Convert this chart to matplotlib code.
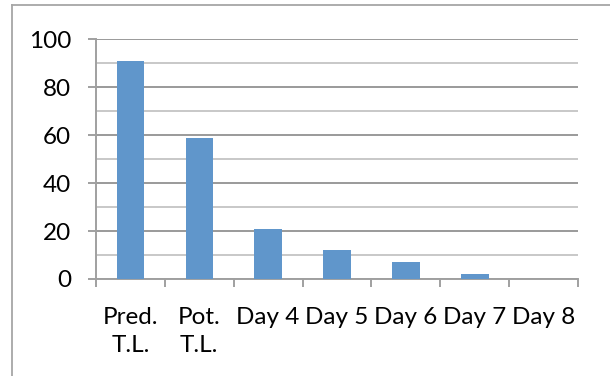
import numpy as np
import matplotlib
matplotlib.use("Agg")
import matplotlib.pyplot as plt
from matplotlib.lines import Line2D

categories = ["Pred.\nT.L.", "Pot.\nT.L.", "Day 4", "Day 5", "Day 6", "Day 7", "Day 8"]
values = [91, 59, 21, 12, 7, 2, 0]
y_ticks = [0, 20, 40, 60, 80, 100]

plt.rcParams['font.family'] = ['Lato', 'DejaVu Sans']

fig = plt.figure(figsize=(6.1, 3.76), dpi=100)
ax = fig.add_axes([0.1574, 0.258, 0.7902, 0.6375])

x = np.arange(len(categories))
ax.bar(x, values, width=0.4, color="#6096CB", zorder=3)

ax.set_xlim(-0.5, len(categories) - 0.5)
ax.set_ylim(0, 100)

# major gridlines every 20, lighter ones in between
ax.set_yticks(y_ticks)
ax.set_yticks(np.arange(10, 100, 20), minor=True)
ax.yaxis.grid(True, which="major", color="#9A9A9A", linewidth=1.4, zorder=0)
ax.yaxis.grid(True, which="minor", color="#C8C8C8", linewidth=1.4, zorder=0)
ax.tick_params(axis="y", which="major", length=6, width=1.4, color="#A0A0A0",
               pad=12, labelsize=17.5, labelcolor="black")
ax.tick_params(axis="y", which="minor", length=0)

# category labels centred, tick marks on the boundaries
ax.set_xticks(x)
ax.set_xticklabels(categories, linespacing=1.45)
ax.set_xticks(np.arange(-0.5, len(categories)), minor=True)
ax.tick_params(axis="x", which="major", length=0, pad=20, labelsize=17.5)
ax.tick_params(axis="x", which="minor", length=6, width=1.4, color="#A0A0A0")

for side in ["top", "right"]:
    ax.spines[side].set_visible(False)
for side in ["left", "bottom"]:
    ax.spines[side].set_color("#A0A0A0")
    ax.spines[side].set_linewidth(1.4)

# outer chart border (left and top edges)
fig.add_artist(Line2D([12 / 610, 12 / 610], [0, 1 - 4.5 / 376],
                      transform=fig.transFigure, color="#A6A6A6", linewidth=1.3))
fig.add_artist(Line2D([12 / 610, 1], [1 - 4.5 / 376, 1 - 4.5 / 376],
                      transform=fig.transFigure, color="#A6A6A6", linewidth=1.3))

fig.savefig("out.png", dpi=100)
